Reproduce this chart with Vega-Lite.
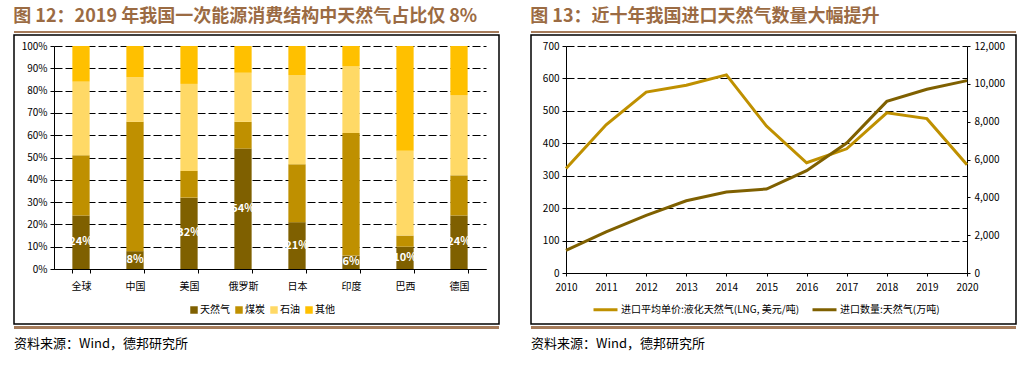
{
  "$schema": "https://vega.github.io/schema/vega-lite/v6.json",
  "padding": {"left": 13, "top": 8, "right": 0, "bottom": 0},
  "background": "white",
  "config": {
    "font": "Noto Sans CJK SC",
    "view": {"stroke": null},
    "axis": {"labelFont": "Noto Sans CJK SC", "domainWidth": 1, "tickWidth": 1}
  },
  "resolve": {"scale": {"color": "independent"}, "legend": {"color": "independent"}},
  "datasets": {
    "energy": [
      {"country": "全球", "type": "天然气", "k": 1, "value": 0.24},
      {"country": "全球", "type": "煤炭", "k": 2, "value": 0.27},
      {"country": "全球", "type": "石油", "k": 3, "value": 0.33},
      {"country": "全球", "type": "其他", "k": 4, "value": 0.16},
      {"country": "中国", "type": "天然气", "k": 1, "value": 0.08},
      {"country": "中国", "type": "煤炭", "k": 2, "value": 0.58},
      {"country": "中国", "type": "石油", "k": 3, "value": 0.20},
      {"country": "中国", "type": "其他", "k": 4, "value": 0.14},
      {"country": "美国", "type": "天然气", "k": 1, "value": 0.32},
      {"country": "美国", "type": "煤炭", "k": 2, "value": 0.12},
      {"country": "美国", "type": "石油", "k": 3, "value": 0.39},
      {"country": "美国", "type": "其他", "k": 4, "value": 0.17},
      {"country": "俄罗斯", "type": "天然气", "k": 1, "value": 0.54},
      {"country": "俄罗斯", "type": "煤炭", "k": 2, "value": 0.12},
      {"country": "俄罗斯", "type": "石油", "k": 3, "value": 0.22},
      {"country": "俄罗斯", "type": "其他", "k": 4, "value": 0.12},
      {"country": "日本", "type": "天然气", "k": 1, "value": 0.21},
      {"country": "日本", "type": "煤炭", "k": 2, "value": 0.26},
      {"country": "日本", "type": "石油", "k": 3, "value": 0.40},
      {"country": "日本", "type": "其他", "k": 4, "value": 0.13},
      {"country": "印度", "type": "天然气", "k": 1, "value": 0.06},
      {"country": "印度", "type": "煤炭", "k": 2, "value": 0.55},
      {"country": "印度", "type": "石油", "k": 3, "value": 0.30},
      {"country": "印度", "type": "其他", "k": 4, "value": 0.09},
      {"country": "巴西", "type": "天然气", "k": 1, "value": 0.10},
      {"country": "巴西", "type": "煤炭", "k": 2, "value": 0.05},
      {"country": "巴西", "type": "石油", "k": 3, "value": 0.38},
      {"country": "巴西", "type": "其他", "k": 4, "value": 0.47},
      {"country": "德国", "type": "天然气", "k": 1, "value": 0.24},
      {"country": "德国", "type": "煤炭", "k": 2, "value": 0.18},
      {"country": "德国", "type": "石油", "k": 3, "value": 0.36},
      {"country": "德国", "type": "其他", "k": 4, "value": 0.22}
    ],
    "gas": [
      {"year": "2010", "series": "进口平均单价:液化天然气(LNG, 美元/吨)", "value": 322},
      {"year": "2011", "series": "进口平均单价:液化天然气(LNG, 美元/吨)", "value": 457},
      {"year": "2012", "series": "进口平均单价:液化天然气(LNG, 美元/吨)", "value": 558},
      {"year": "2013", "series": "进口平均单价:液化天然气(LNG, 美元/吨)", "value": 579},
      {"year": "2014", "series": "进口平均单价:液化天然气(LNG, 美元/吨)", "value": 611},
      {"year": "2015", "series": "进口平均单价:液化天然气(LNG, 美元/吨)", "value": 453},
      {"year": "2016", "series": "进口平均单价:液化天然气(LNG, 美元/吨)", "value": 340},
      {"year": "2017", "series": "进口平均单价:液化天然气(LNG, 美元/吨)", "value": 383},
      {"year": "2018", "series": "进口平均单价:液化天然气(LNG, 美元/吨)", "value": 494},
      {"year": "2019", "series": "进口平均单价:液化天然气(LNG, 美元/吨)", "value": 476},
      {"year": "2020", "series": "进口平均单价:液化天然气(LNG, 美元/吨)", "value": 334},
      {"year": "2010", "series": "进口数量:天然气(万吨)", "value": 1200},
      {"year": "2011", "series": "进口数量:天然气(万吨)", "value": 2170},
      {"year": "2012", "series": "进口数量:天然气(万吨)", "value": 3050},
      {"year": "2013", "series": "进口数量:天然气(万吨)", "value": 3820},
      {"year": "2014", "series": "进口数量:天然气(万吨)", "value": 4280},
      {"year": "2015", "series": "进口数量:天然气(万吨)", "value": 4440},
      {"year": "2016", "series": "进口数量:天然气(万吨)", "value": 5410},
      {"year": "2017", "series": "进口数量:天然气(万吨)", "value": 6870},
      {"year": "2018", "series": "进口数量:天然气(万吨)", "value": 9070},
      {"year": "2019", "series": "进口数量:天然气(万吨)", "value": 9710},
      {"year": "2020", "series": "进口数量:天然气(万吨)", "value": 10170}
    ]
  },
  "spacing": 30,
  "hconcat": [
    {
      "title": {"text": "图 12：2019 年我国一次能源消费结构中天然气占比仅 8%", "anchor": "start", "fontSize": 18, "fontWeight": "bold", "color": "#9B6B43", "offset": 5},
      "spacing": 1,
      "vconcat": [
        {"width": 485, "height": 2, "data": {"values": []}, "mark": "rect", "encoding": {}, "view": {"fill": "#A67C5B", "stroke": null}},
        {
          "width": 485, "height": 289,
          "view": {"stroke": "#000", "strokeWidth": 1.5},
          "data": {"name": "energy"},
          "encoding": {
            "x": {"field": "country", "type": "nominal", "sort": null,
              "scale": {"type": "band", "range": [40, 472], "paddingInner": 0.68, "paddingOuter": 0.34},
              "axis": {"title": null, "offset": -55, "tickBand": "extent", "labelAngle": 0, "domainColor": "#000", "tickColor": "#000", "tickSize": 4, "labelPadding": 8, "labelFontSize": 10, "labelColor": "#000", "grid": false}}
          },
          "layer": [
            {
              "mark": {"type": "bar"},
              "encoding": {
                "y": {"field": "value", "type": "quantitative", "stack": "zero",
                  "scale": {"domain": [0, 1], "range": [234, 11], "nice": false},
                  "axis": {"title": null, "format": ".0%", "values": [0, 0.1, 0.2, 0.3, 0.4, 0.5, 0.6, 0.7, 0.8, 0.9, 1], "offset": -40, "grid": true, "gridColor": "#000", "gridDash": [8, 3], "gridWidth": 1, "domainColor": "#000", "tickColor": "#000", "tickSize": 4, "labelFontSize": 10, "labelColor": "#000", "labelPadding": 3}},
                "color": {"field": "type", "type": "nominal",
                  "scale": {"domain": ["天然气", "煤炭", "石油", "其他"], "range": ["#7F6000", "#BF9000", "#FFD966", "#FFC000"]},
                  "legend": {"title": null, "orient": "none", "legendX": 175, "legendY": 274, "direction": "horizontal", "symbolType": "square", "symbolSize": 56, "symbolStrokeWidth": 0, "labelFontSize": 10, "labelColor": "#000", "labelOffset": 1, "columnPadding": 4, "padding": 0}},
                "order": {"field": "k", "type": "quantitative"}
              }
            },
            {
              "transform": [{"filter": {"field": "type", "equal": "天然气"}}],
              "mark": {"type": "text", "color": "white", "fontWeight": "bold", "fontSize": 11},
              "encoding": {
                "y": {"field": "value", "type": "quantitative", "scale": {"domain": [0, 2], "range": [234, 11], "nice": false}, "axis": null},
                "text": {"field": "value", "type": "quantitative", "format": ".0%"}
              }
            }
          ],
          "resolve": {"scale": {"y": "independent"}}
        },
        {"width": 485, "height": 3, "data": {"values": []}, "mark": "rect", "encoding": {}, "view": {"fill": "#A67C5B", "stroke": null},
          "title": {"text": "资料来源：Wind，德邦研究所", "orient": "bottom", "anchor": "start", "fontSize": 13, "fontWeight": "normal", "color": "#000", "offset": 9}}
      ]
    },
    {
      "title": {"text": "图 13：近十年我国进口天然气数量大幅提升", "anchor": "start", "fontSize": 18, "fontWeight": "bold", "color": "#9B6B43", "offset": 5},
      "spacing": 1,
      "vconcat": [
        {"width": 485, "height": 2, "data": {"values": []}, "mark": "rect", "encoding": {}, "view": {"fill": "#A67C5B", "stroke": null}},
        {
          "width": 485, "height": 289,
          "view": {"stroke": "#000", "strokeWidth": 1.5},
          "data": {"name": "gas"},
          "encoding": {
            "x": {"field": "year", "type": "ordinal",
              "scale": {"type": "point", "range": [35, 436], "padding": 0},
              "axis": {"title": null, "offset": -51, "labelAngle": 0, "tickSize": 3, "domainColor": "#000", "tickColor": "#000", "labelFontSize": 10, "labelColor": "#000", "labelPadding": 6, "grid": false}},
            "color": {"field": "series", "type": "nominal",
              "scale": {"domain": ["进口平均单价:液化天然气(LNG, 美元/吨)", "进口数量:天然气(万吨)"], "range": ["#BF9000", "#7F6000"]},
              "legend": {"title": null, "orient": "none", "legendX": 61, "legendY": 265, "direction": "horizontal", "symbolType": "stroke", "symbolSize": 576, "symbolStrokeWidth": 3, "labelFontSize": 10, "labelColor": "#000", "labelLimit": 400, "labelOffset": 2, "columnPadding": 6, "padding": 0}}
          },
          "layer": [
            {
              "transform": [{"filter": {"field": "series", "equal": "进口平均单价:液化天然气(LNG, 美元/吨)"}}],
              "mark": {"type": "line", "strokeWidth": 3},
              "encoding": {
                "y": {"field": "value", "type": "quantitative",
                  "scale": {"domain": [0, 700], "range": [238, 11], "nice": false},
                  "axis": {"title": null, "orient": "left", "values": [0, 100, 200, 300, 400, 500, 600, 700], "offset": -35, "grid": true, "gridColor": "#000", "gridDash": [8, 3], "gridWidth": 1, "domainColor": "#000", "tickColor": "#000", "tickSize": 4, "labelFontSize": 10, "labelColor": "#000", "labelPadding": 3}}
              }
            },
            {
              "transform": [{"filter": {"field": "series", "equal": "进口数量:天然气(万吨)"}}],
              "mark": {"type": "line", "strokeWidth": 3},
              "encoding": {
                "y": {"field": "value", "type": "quantitative",
                  "scale": {"domain": [0, 12000], "range": [238, 11], "nice": false},
                  "axis": {"title": null, "orient": "right", "values": [0, 2000, 4000, 6000, 8000, 10000, 12000], "format": ",d", "offset": -49, "grid": false, "domainColor": "#000", "tickColor": "#000", "tickSize": 3, "labelFontSize": 10, "labelColor": "#000", "labelPadding": 4}}
              }
            }
          ],
          "resolve": {"scale": {"y": "independent"}}
        },
        {"width": 485, "height": 3, "data": {"values": []}, "mark": "rect", "encoding": {}, "view": {"fill": "#A67C5B", "stroke": null},
          "title": {"text": "资料来源：Wind，德邦研究所", "orient": "bottom", "anchor": "start", "fontSize": 13, "fontWeight": "normal", "color": "#000", "offset": 9}}
      ]
    }
  ]
}
